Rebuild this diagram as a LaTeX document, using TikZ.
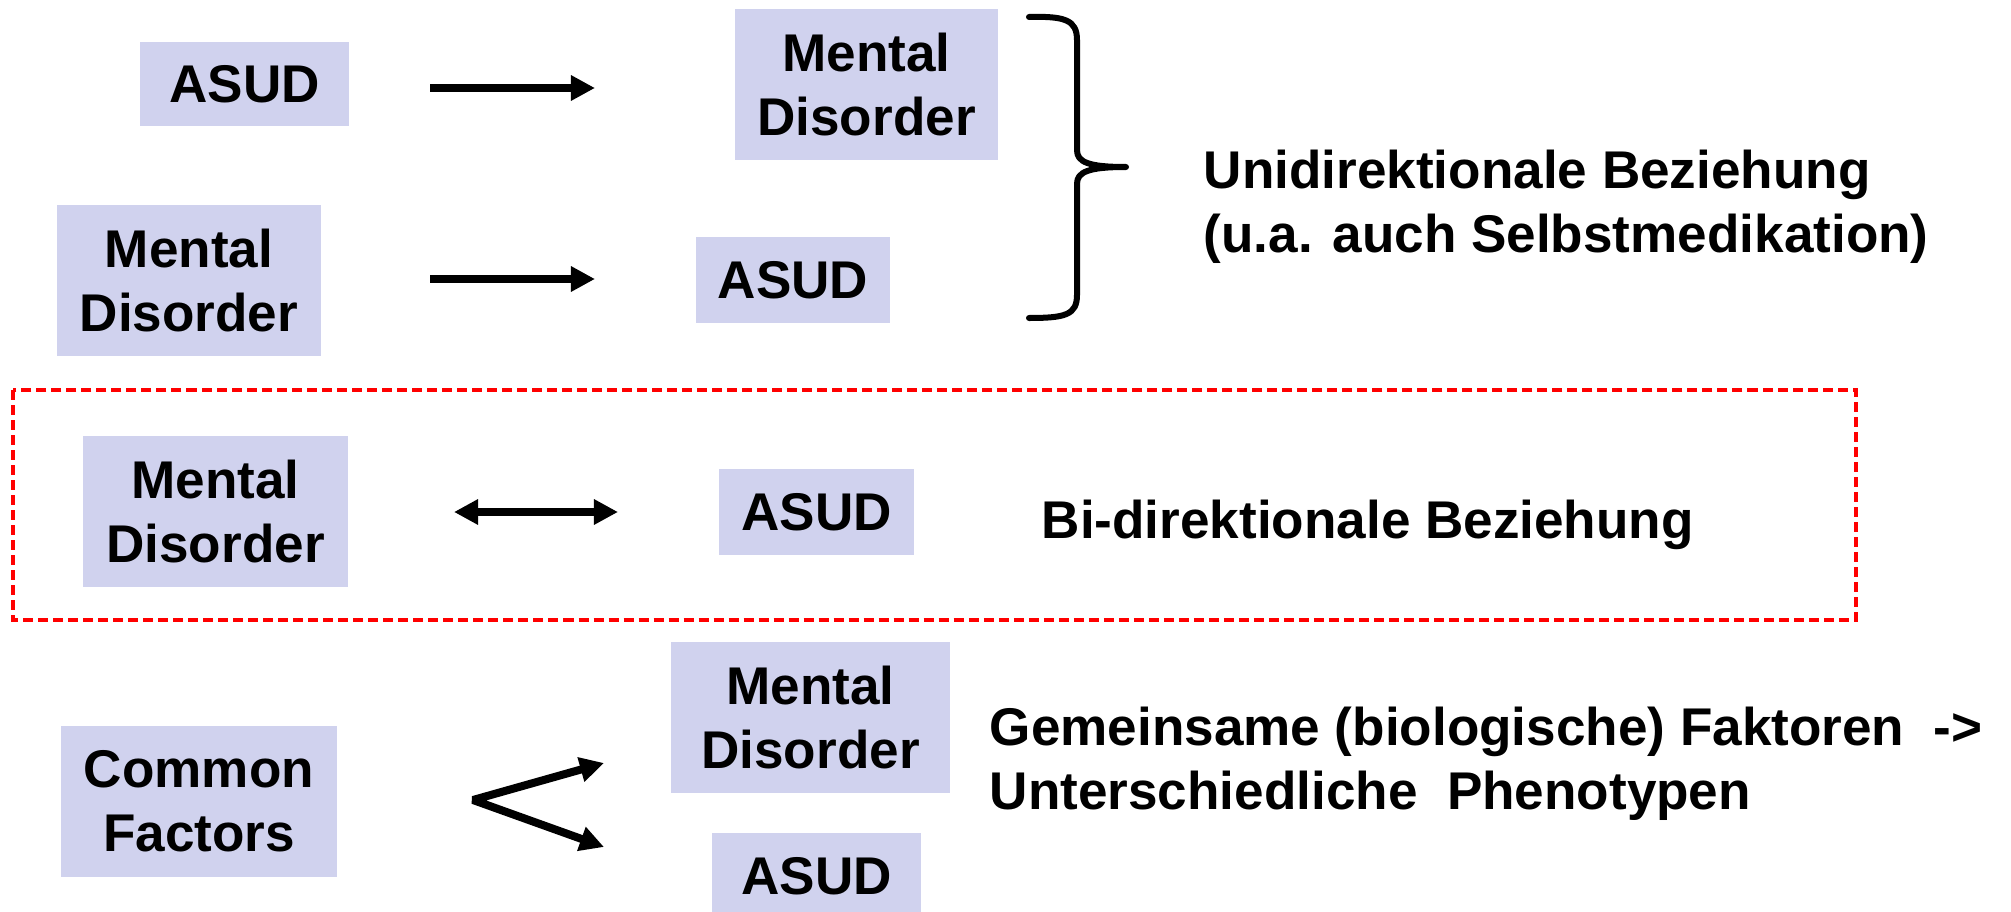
\documentclass[tikz,border=0pt]{standalone}
\usepackage{fontspec}
\setmainfont{Liberation Sans}
\usetikzlibrary{arrows.meta,calc}
\definecolor{boxblue}{RGB}{208,210,238}

\begin{document}
\begin{tikzpicture}[x=0.01cm, y=-0.01cm,
    >={Triangle[length=0.24cm, width=0.24cm]},
    box/.style = {fill=boxblue, align=center, inner sep=0pt, font=\bfseries\fontsize{15.1}{18.1}\selectfont},
    txt/.style = {align=left, inner sep=0pt, font=\bfseries\fontsize{15.1}{18.1}\selectfont},
    arr/.style = {line width=0.08cm, line join=bevel},
  ]
  \clip(0,0)rectangle(2011,912);
  % unidirektional
  \node[box, minimum width=2.09cm, minimum height=0.83cm](asud1)at(244.5,84){ASUD};
  \node[box, minimum width=2.63cm, minimum height=1.51cm](md1)at(866.5,84.5){Mental\\Disorder};
  \node[box, minimum width=2.64cm, minimum height=1.51cm](md2)at(189,280.5){Mental\\Disorder};
  \node[box, minimum width=1.94cm, minimum height=0.86cm](asud2)at(793,280){ASUD};
  \coordinate(a1s)at(430,88);
  \coordinate(a1e)at(595,88);
  \path[draw, arr, ->](a1s)to(a1e);
  \coordinate(a2s)at(430,279);
  \coordinate(a2e)at(595,279);
  \path[draw, arr, ->](a2s)to(a2e);
  % brace
  \path[draw, line width=0.06cm, line cap=round, line join=round]
    (1029,17) .. controls (1065,16) and (1077,20) .. (1077,40) -- (1077,150)
    .. controls (1077,162) and (1088,167) .. (1126,167)
    .. controls (1088,167) and (1077,172) .. (1077,184) -- (1077,295)
    .. controls (1077,315) and (1065,318) .. (1029,318);
  \node[txt, anchor=base west](uni)at(1203,252){Unidirektionale Beziehung\\(u.a. auch Selbstmedikation)};
  % bi-direktional
  \path[draw, red, line width=0.04cm, dash pattern=on 0.1cm off 0.05cm](13,390)rectangle(1856,620);
  \node[box, minimum width=2.65cm, minimum height=1.51cm](md3)at(215.5,511.5){Mental\\Disorder};
  \node[box, minimum width=1.95cm, minimum height=0.86cm](asud3)at(816.5,512){ASUD};
  \coordinate(a3s)at(454,512);
  \coordinate(a3e)at(618,512);
  \path[draw, arr, <->](a3s)to(a3e);
  \node[txt, anchor=base west](bi)at(1041,538){Bi-direktionale Beziehung};
  % common factors
  \node[box, minimum width=2.76cm, minimum height=1.51cm](cf)at(199,801.5){Common\\Factors};
  \node[box, minimum width=2.79cm, minimum height=1.51cm](md4)at(810.5,717.5){Mental\\Disorder};
  \node[box, minimum width=2.09cm, minimum height=0.86cm](asud4)at(816.5,876){ASUD};
  \coordinate(cfu)at(604,763);
  \coordinate(cfv)at(473,800);
  \coordinate(cfd)at(604,847);
  \path[draw, arr, <->](cfu)to(cfv)to(cfd);
  \node[txt, anchor=base west](gem)at(989,809){Gemeinsame (biologische) Faktoren\ \ ->\\Unterschiedliche\ \ Phenotypen};
  \useasboundingbox(0,0)rectangle(2011,912);
\end{tikzpicture}
\end{document}
